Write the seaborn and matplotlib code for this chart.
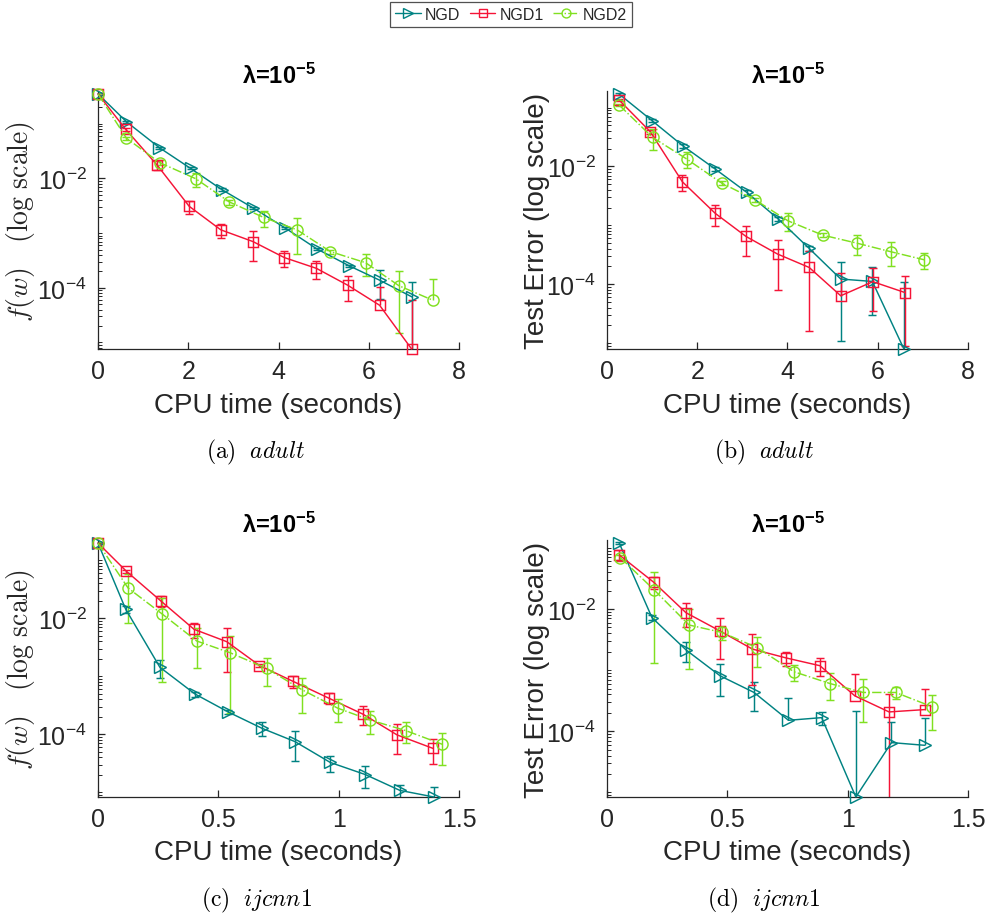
import numpy as np
import matplotlib
matplotlib.use("Agg")
import matplotlib.pyplot as plt
import seaborn as sns
from matplotlib.ticker import LogLocator, NullFormatter, FixedLocator
from matplotlib.lines import Line2D

# ---------------- data ----------------
methods = ["NGD", "NGD1", "NGD2"]

# (a) adult, objective
a_ngd_t = [0, 0.63, 1.36, 2.05, 2.74, 3.44, 4.15, 4.85, 5.56, 6.24, 6.96]
a_ngd_v = [0.352, 0.109, 0.0366, 0.0153, 0.00628, 0.00288, 0.00124, 5.15e-4, 2.54e-4, 1.38e-4, 6.8e-5]
a_ngd_e = [0.01, 0.004, 0.0015, 0.0006, 0.0003, 0.00012, 0.00006, 0.00002, 0.00001, 0.75e-4, 6.1e-5]
a_ngd1_t = [0, 0.61, 1.31, 2.02, 2.72, 3.43, 4.13, 4.84, 5.53, 6.24, 6.95]
a_ngd1_v = [0.352, 0.0798, 0.0176, 0.0031, 0.00115, 7.03e-4, 3.57e-4, 2.27e-4, 1.12e-4, 4.8e-5, 7.6e-6]
a_ngd1_e = [0.01, 0.005, 0.0032, 0.00084, 3.4e-4, 4e-4, 1.16e-4, 0.83e-4, 0.54e-4, 5.5e-5, 5.2e-5]
a_ngd2_t = [0, 0.63, 1.37, 2.17, 2.91, 3.67, 4.41, 5.15, 5.93, 6.67, 7.42]
a_ngd2_v = [0.352, 0.0545, 0.0194, 0.00986, 0.00372, 0.00194, 0.00115, 4.6e-4, 2.88e-4, 1.09e-4, 5.93e-5]
a_ngd2_e = [0.01, 0.004, 0.002, 0.0029, 4e-4, 6.4e-4, 7.4e-4, 4e-5, 1.22e-4, 0.94e-4, 0.83e-4]

# (b) adult, test error
b_ngd_t = [0.27, 1.00, 1.68, 2.40, 3.10, 3.80, 4.48, 5.18, 5.88, 6.58]
b_ngd_v = [0.169, 0.0597, 0.0224, 0.0090, 0.00361, 0.00127, 4.04e-4, 1.22e-4, 1.11e-4, 7.9e-6]
b_ngd_e = [0.008, 0.004, 0.0015, 0.0006, 0.0003, 0.0001, 4e-5, 1.11e-4, 0.81e-4, 0.99e-4]
b_ngd1_t = [0.26, 0.96, 1.67, 2.40, 3.08, 3.78, 4.48, 5.18, 5.89, 6.60]
b_ngd1_v = [0.136, 0.0388, 0.00548, 0.00159, 6.46e-4, 3.24e-4, 1.92e-4, 6.34e-5, 1.10e-4, 7.2e-5]
b_ngd1_e = [0.006, 0.003, 0.00165, 6.1e-4, 3.4e-4, 2.43e-4, 1.76e-4, 0.9e-4, 0.75e-4, 0.63e-4]
b_ngd2_t = [0.27, 1.01, 1.77, 2.54, 3.28, 4.01, 4.78, 5.53, 6.29, 7.03]
b_ngd2_v = [0.110, 0.0311, 0.0133, 0.00521, 0.00271, 0.00119, 6.8e-4, 4.98e-4, 3.55e-4, 2.59e-4]
b_ngd2_e = [0.005, 0.012, 0.004, 0.0004, 0.0002, 0.0004, 0.5e-4, 1.9e-4, 1.55e-4, 0.78e-4]

# (c) ijcnn1, objective
c_ngd_t = [0, 0.115, 0.257, 0.403, 0.542, 0.681, 0.819, 0.965, 1.111, 1.254, 1.396]
c_ngd_v = [0.197, 0.0143, 0.00143, 4.94e-4, 2.41e-4, 1.27e-4, 7.46e-5, 3.27e-5, 2.02e-5, 1.08e-5, 8.3e-6]
c_ngd_e = [0.005, 0.002, 5.1e-4, 0.5e-4, 0.2e-4, 0.34e-4, 0.4e-4, 1.0e-5, 0.84e-5, 0.28e-5, 0.4e-5]
c_ngd1_t = [0, 0.118, 0.260, 0.399, 0.535, 0.671, 0.810, 0.958, 1.101, 1.243, 1.392]
c_ngd1_v = [0.197, 0.0644, 0.0200, 0.00644, 0.00394, 0.00153, 8.18e-4, 4.21e-4, 2.22e-4, 9.73e-5, 5.71e-5]
c_ngd1_e = [0.005, 0.004, 0.0044, 0.00197, 0.00277, 0.0001, 1.8e-4, 0.93e-4, 0.8e-4, 0.52e-4, 2.6e-5]
c_ngd2_t = [0, 0.125, 0.268, 0.410, 0.549, 0.701, 0.847, 0.996, 1.129, 1.278, 1.431]
c_ngd2_v = [0.197, 0.0331, 0.0117, 0.00405, 0.00254, 0.00136, 5.87e-4, 2.82e-4, 1.77e-4, 1.16e-4, 6.71e-5]
c_ngd2_e = [0.005, 0.0248, 0.0109, 0.00265, 0.00231, 0.00069, 3.5e-4, 1.21e-4, 0.77e-4, 4.6e-5, 3.77e-5]

# (d) ijcnn1, test error
d_ngd_t = [0.051, 0.187, 0.329, 0.470, 0.611, 0.754, 0.892, 1.034, 1.182, 1.320]
d_ngd_v = [0.119, 7.21e-3, 2.13e-3, 8.07e-4, 4.31e-4, 1.51e-4, 1.67e-4, 8.4e-6, 6.52e-5, 5.89e-5]
d_ngd_e = [0.004, 0.7e-3, 0.78e-3, 4.3e-4, 2.13e-4, 1.93e-4, 0.4e-4, 2.05e-4, 0.74e-4, 1.03e-4]
d_ngd1_t = [0.051, 0.194, 0.328, 0.470, 0.604, 0.742, 0.885, 1.030, 1.172, 1.320]
d_ngd1_v = [0.0767, 0.0274, 8.7e-3, 4.36e-3, 2.21e-3, 1.59e-3, 1.18e-3, 3.79e-4, 2.07e-4, 2.26e-4]
d_ngd1_e = [0.015, 0.0065, 0.0037, 2.85e-3, 1.64e-3, 0.41e-3, 0.37e-3, 5.0e-4, 2.0e-4, 2.63e-4]
d_ngd2_t = [0.055, 0.196, 0.341, 0.477, 0.625, 0.777, 0.926, 1.064, 1.199, 1.352]
d_ngd2_v = [0.0695, 0.0205, 5.47e-3, 4.14e-3, 2.32e-3, 9.4e-4, 6.04e-4, 4.31e-4, 4.31e-4, 2.51e-4]
d_ngd2_e = [0.006, 0.0192, 4.43e-3, 1.0e-3, 1.2e-3, 2.7e-4, 2.8e-4, 2.9e-4, 1.0e-4, 1.48e-4]

x_ticks_adult = [0, 2, 4, 6, 8]
x_ticks_ijcnn = [0, 0.5, 1, 1.5]
x_tick_labels_ijcnn = ["0", "0.5", "1", "1.5"]
y_major_ticks = [1e-4, 1e-2]
captions = [r"$\mathrm{(a)}\ \ \mathit{adult}$", r"$\mathrm{(b)}\ \ \mathit{adult}$",
            r"$\mathrm{(c)}\ \ \mathit{ijcnn1}$", r"$\mathrm{(d)}\ \ \mathit{ijcnn1}$"]

# ---------------- style ----------------
sns.set_theme(style="ticks")
plt.rcParams["font.family"] = ["Liberation Sans", "DejaVu Sans"]
plt.rcParams["mathtext.fontset"] = "custom"
plt.rcParams["mathtext.rm"] = "Liberation Sans"
plt.rcParams["mathtext.bf"] = "Liberation Sans:bold"
plt.rcParams["mathtext.it"] = "Liberation Sans:italic"
plt.rcParams["axes.unicode_minus"] = False

colors = {"NGD": "#008282", "NGD1": "#f51437", "NGD2": "#80e020"}
markers = {"NGD": ">", "NGD1": "s", "NGD2": "o"}
msizes = {"NGD": 8.5, "NGD1": 6.5, "NGD2": 8}
lstyles = {"NGD": "-", "NGD1": "-", "NGD2": "-."}
axcol = "#262626"
lw = 1.05

W, H = 987, 920
fig = plt.figure(figsize=(W / 100, H / 100), dpi=100)

def px_axes(l, r, t, b):
    return fig.add_axes([l / W, 1 - b / H, (r - l) / W, (b - t) / H])

panels = [
    dict(box=(98, 459, 92, 350), xlim=(0, 8), xt=x_ticks_adult, xtl=None, ylab="f",
         data={"NGD": (a_ngd_t, a_ngd_v, a_ngd_e), "NGD1": (a_ngd1_t, a_ngd1_v, a_ngd1_e),
               "NGD2": (a_ngd2_t, a_ngd2_v, a_ngd2_e)}),
    dict(box=(607, 968, 92, 350), xlim=(0, 8), xt=x_ticks_adult, xtl=None, ylab="te",
         data={"NGD": (b_ngd_t, b_ngd_v, b_ngd_e), "NGD1": (b_ngd1_t, b_ngd1_v, b_ngd1_e),
               "NGD2": (b_ngd2_t, b_ngd2_v, b_ngd2_e)}),
    dict(box=(98, 459, 541, 798), xlim=(0, 1.5), xt=x_ticks_ijcnn, xtl=x_tick_labels_ijcnn, ylab="f",
         data={"NGD": (c_ngd_t, c_ngd_v, c_ngd_e), "NGD1": (c_ngd1_t, c_ngd1_v, c_ngd1_e),
               "NGD2": (c_ngd2_t, c_ngd2_v, c_ngd2_e)}),
    dict(box=(607, 968, 541, 798), xlim=(0, 1.5), xt=x_ticks_ijcnn, xtl=x_tick_labels_ijcnn, ylab="te",
         data={"NGD": (d_ngd_t, d_ngd_v, d_ngd_e), "NGD1": (d_ngd1_t, d_ngd1_v, d_ngd1_e),
               "NGD2": (d_ngd2_t, d_ngd2_v, d_ngd2_e)}),
]
caption_pos = [(256, 452), (764, 452), (256, 900), (764, 900)]

for i, p in enumerate(panels):
    ax = px_axes(*p["box"])
    allv = []
    for m in methods:
        t, v, e = (np.asarray(a, float) for a in p["data"][m])
        allv.extend(v)
        c = colors[m]
        full = (v - e) > 0
        # error bars (MATLAB style: lower half dropped where it would be <= 0)
        if full.any():
            ax.errorbar(t[full], v[full], yerr=e[full], fmt="none", ecolor=c,
                        elinewidth=lw, capsize=2.6, capthick=lw, zorder=2)
        if (~full).any():
            cont = ax.errorbar(t[~full], v[~full], yerr=[np.zeros((~full).sum()), e[~full]],
                               fmt="none", ecolor=c, elinewidth=lw, capsize=2.6,
                               capthick=lw, zorder=2)
            cont[1][0].set_visible(False)
        sns.lineplot(x=t, y=v, ax=ax, color=c, marker=markers[m], markersize=msizes[m],
                     markerfacecolor="none", markeredgecolor=c, markeredgewidth=lw,
                     linestyle=lstyles[m], linewidth=lw, sort=False, errorbar=None,
                     legend=False, clip_on=False, zorder=3)
    ax.set_yscale("log")
    ax.set_xlim(*p["xlim"])
    ax.set_ylim(min(allv), max(allv) * 1.13)
    ax.set_xticks(p["xt"])
    if p["xtl"] is not None:
        ax.set_xticklabels(p["xtl"])
    ax.yaxis.set_major_locator(FixedLocator(y_major_ticks))
    ax.yaxis.set_minor_locator(LogLocator(base=10, subs=np.arange(1, 10), numticks=100))
    ax.yaxis.set_minor_formatter(NullFormatter())
    for s in ["top", "right"]:
        ax.spines[s].set_visible(False)
    for s in ["left", "bottom"]:
        ax.spines[s].set_color(axcol)
        ax.spines[s].set_linewidth(0.9)
    ax.tick_params(axis="both", which="major", direction="in", length=5, width=0.9,
                   color=axcol, labelcolor=axcol, labelsize=18, left=True, bottom=True)
    ax.tick_params(axis="y", which="minor", direction="in", length=3, width=0.7,
                   color=axcol, left=True)
    ax.tick_params(axis="x", pad=7)
    ax.tick_params(axis="y", pad=8)
    ax.set_xlabel("CPU time (seconds)", fontsize=20, color=axcol)
    ax.xaxis.set_label_coords(0.5, -0.165)
    if p["ylab"] == "f":
        ax.set_ylabel(r"$f(w)\ \ \ \mathrm{(log\ scale)}$", fontsize=20, color=axcol,
                      math_fontfamily="cm")
        ax.yaxis.set_label_coords(-0.168, 0.5)
    else:
        ax.set_ylabel("Test Error (log scale)", fontsize=20, color=axcol)
        ax.yaxis.set_label_coords(-0.158, 0.5)
    ax.set_title(r"λ=10$^{\mathbf{-5}}$", fontsize=17, fontweight="bold", color="black", pad=6)
    cx, cy = caption_pos[i]
    fig.text(cx / W, 1 - cy / H, captions[i], ha="center", va="center", fontsize=17,
             math_fontfamily="cm", color="black")

handles = [Line2D([], [], color=colors[m], marker=markers[m], markersize=msizes[m] * 0.8,
                  markerfacecolor="none", markeredgecolor=colors[m], markeredgewidth=1.0,
                  linestyle=lstyles[m], linewidth=1.0) for m in methods]
leg = fig.legend(handles, methods, loc="upper center", bbox_to_anchor=(511 / W, 1 - 3 / H),
                 ncol=3, frameon=True, fancybox=False, fontsize=11.5, handlelength=1.6,
                 handletextpad=0.25, columnspacing=0.6, borderpad=0.3, borderaxespad=0)
leg.get_frame().set_edgecolor(axcol)
leg.get_frame().set_linewidth(0.9)

fig.savefig("out.png", dpi=100, facecolor="white")
